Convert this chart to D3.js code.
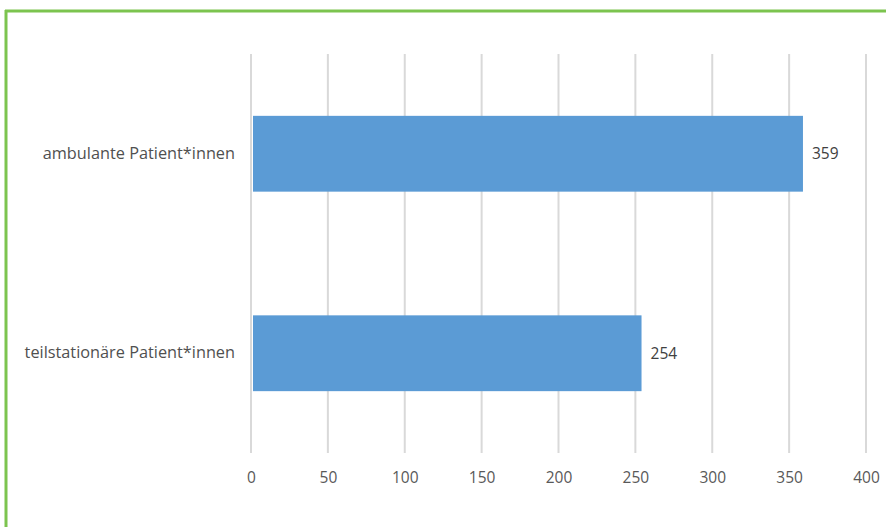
<!DOCTYPE html>
<html>
<head>
<meta charset="utf-8">
<script src="https://cdn.jsdelivr.net/npm/d3@7"></script>
<style>
  body { margin: 0; background: #fff; }
  text { font-family: "Open Sans", Lato, sans-serif; }
</style>
</head>
<body>
<div id="chart-area"></div>
<script>
/* Data */
var categories = ["ambulante Patient*innen", "teilstationäre Patient*innen"];
var values = [359, 254];
var tickValues = [0, 50, 100, 150, 200, 250, 300, 350, 400];

/* Size and margins */
var W = 886, H = 527;
var margin = { left: 251, right: 20, top: 54, bottom: 74 };
var width = 866 - margin.left;
var height = H - margin.top - margin.bottom;

var svg = d3.select("#chart-area").append("svg")
  .attr("width", W)
  .attr("height", H);

/* green frame (top and left only) */
svg.append("line")
  .attr("x1", 5).attr("x2", W).attr("y1", 11).attr("y2", 11)
  .attr("stroke", "#7cc44f").attr("stroke-width", 3);
svg.append("line")
  .attr("x1", 6).attr("x2", 6).attr("y1", 10).attr("y2", H)
  .attr("stroke", "#7cc44f").attr("stroke-width", 3);

var g = svg.append("g")
  .attr("transform", "translate(" + margin.left + ", " + margin.top + ")");

/* Scales */
var x = d3.scaleLinear()
  .domain([0, 400])
  .range([0, width]);

var y = d3.scaleBand()
  .domain(categories)
  .range([0, height])
  .paddingInner(0.62)
  .paddingOuter(0.31);

/* Gridlines */
g.selectAll(".grid")
  .data(tickValues)
  .enter()
  .append("line")
    .attr("class", "grid")
    .attr("x1", function(d) { return x(d); })
    .attr("x2", function(d) { return x(d); })
    .attr("y1", 0)
    .attr("y2", height)
    .attr("stroke", "#d9d9d9")
    .attr("stroke-width", 2);

/* X axis labels */
var xAxisCall = d3.axisBottom(x)
  .tickValues(tickValues)
  .tickSize(0)
  .tickPadding(19);

var xAxis = g.append("g")
  .attr("class", "x axis")
  .attr("transform", "translate(0, " + height + ")")
  .call(xAxisCall);
xAxis.select(".domain").remove();
xAxis.selectAll("text")
  .attr("font-size", "15.5px")
  .attr("font-family", "'Open Sans', Lato, sans-serif")
  .attr("fill", "#595959");

/* Y axis labels */
var yAxisCall = d3.axisLeft(y)
  .tickSize(0)
  .tickPadding(16);

var yAxis = g.append("g")
  .attr("class", "y axis")
  .call(yAxisCall);
yAxis.select(".domain").remove();
yAxis.selectAll("text")
  .attr("font-size", "16.3px")
  .attr("font-family", "'Open Sans', Lato, sans-serif")
  .attr("fill", "#505050");

/* Bars */
var data = categories.map(function(c, i) { return { name: c, value: values[i] }; });

g.selectAll("rect.bar")
  .data(data)
  .enter()
  .append("rect")
    .attr("class", "bar")
    .attr("x", x(0) + 2)
    .attr("y", function(d) { return y(d.name); })
    .attr("width", function(d) { return x(d.value) - x(0) - 2; })
    .attr("height", y.bandwidth())
    .attr("fill", "#5b9bd5");

/* Value labels */
g.selectAll("text.val")
  .data(data)
  .enter()
  .append("text")
    .attr("class", "val")
    .attr("x", function(d) { return x(d.value) + 9; })
    .attr("y", function(d) { return y(d.name) + y.bandwidth() / 2; })
    .attr("dy", "0.35em")
    .attr("font-size", "15.5px")
    .attr("fill", "#404040")
    .text(function(d) { return d.value; });
</script>
</body>
</html>
